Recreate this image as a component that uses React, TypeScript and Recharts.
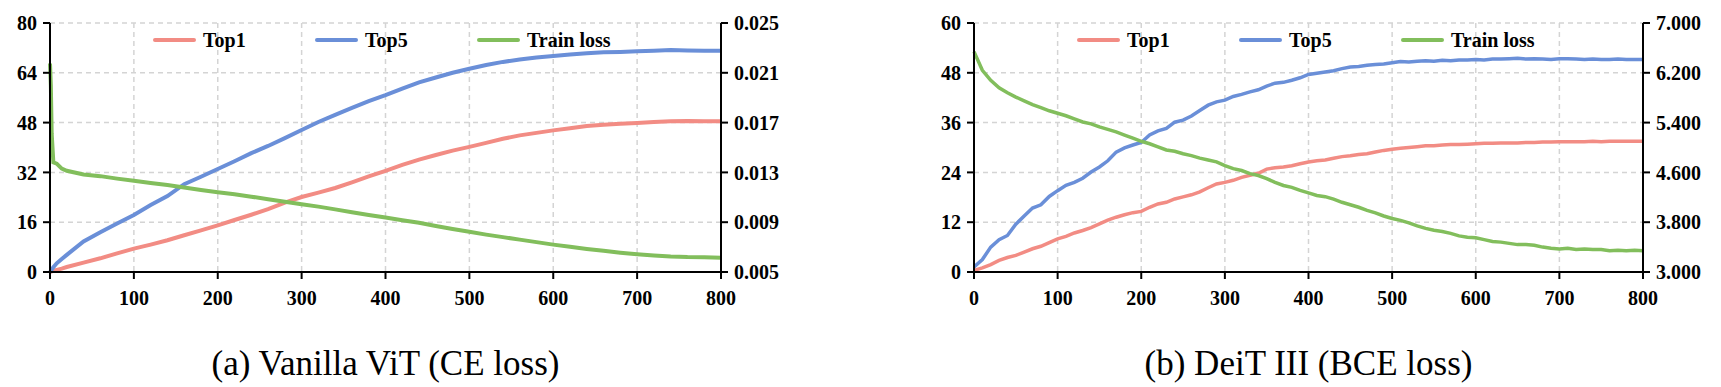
import React from "react";
import { LineChart, Line, XAxis, YAxis, CartesianGrid } from "recharts";

// (a) Vanilla ViT
const epochsA = [0, 1, 2, 4, 8, 14, 20, 40, 60, 80, 100, 120, 140, 160, 180, 200, 220, 240, 260, 280, 300, 320, 340, 360, 380, 400, 420, 440, 460, 480, 500, 520, 540, 560, 580, 600, 620, 640, 660, 680, 700, 720, 740, 760, 780, 800];
const top1A = [0, 0.1, 0.2, 0.4, 0.7, 1.1, 1.6, 3.0, 4.4, 6.0, 7.5, 8.8, 10.2, 11.8, 13.4, 15.0, 16.7, 18.4, 20.2, 22.3, 24.1, 25.5, 27.0, 28.8, 30.7, 32.5, 34.4, 36.1, 37.6, 39.0, 40.2, 41.5, 42.8, 43.9, 44.7, 45.5, 46.2, 46.9, 47.3, 47.6, 47.9, 48.2, 48.4, 48.5, 48.4, 48.4];
const top5A = [0, 0.3, 0.8, 1.5, 2.8, 4.2, 5.5, 9.8, 12.8, 15.6, 18.3, 21.5, 24.4, 28.2, 30.6, 33.1, 35.6, 38.2, 40.5, 43.0, 45.6, 48.2, 50.5, 52.7, 54.9, 56.8, 58.9, 60.9, 62.5, 64.0, 65.3, 66.5, 67.5, 68.3, 68.9, 69.4, 69.9, 70.3, 70.6, 70.7, 70.9, 71.1, 71.3, 71.2, 71.1, 71.1];
const lossA = [0.02175, 0.02, 0.01613, 0.0138, 0.0137, 0.0133, 0.01313, 0.01283, 0.0127, 0.0125, 0.01233, 0.01215, 0.01198, 0.01178, 0.01158, 0.0114, 0.01125, 0.01105, 0.01085, 0.01065, 0.01045, 0.01025, 0.01003, 0.0098, 0.00958, 0.00938, 0.00915, 0.00895, 0.0087, 0.00845, 0.00823, 0.008, 0.0078, 0.0076, 0.0074, 0.0072, 0.00703, 0.00685, 0.0067, 0.00655, 0.00643, 0.00633, 0.00625, 0.0062, 0.00618, 0.00615];

// (b) DeiT III, every 10 epochs
const epochsB = Array.from({ length: 81 }, (_, i) => i * 10);
const top1B = [
  0.4, 1.0, 1.8, 2.8, 3.5, 4.0, 4.8, 5.6, 6.2, 7.1,
  8.0, 8.6, 9.4, 10.0, 10.7, 11.6, 12.5, 13.2, 13.8, 14.3,
  14.6, 15.6, 16.4, 16.8, 17.6, 18.1, 18.6, 19.3, 20.3, 21.2,
  21.6, 22.1, 22.8, 23.3, 23.8, 24.8, 25.1, 25.3, 25.6, 26.1,
  26.5, 26.8, 27.0, 27.4, 27.8, 28.0, 28.3, 28.5, 28.9, 29.3,
  29.6, 29.8, 30.0, 30.2, 30.4, 30.4, 30.6, 30.7, 30.7, 30.8,
  30.9, 31.0, 31.0, 31.1, 31.1, 31.1, 31.2, 31.2, 31.3, 31.3,
  31.4, 31.4, 31.4, 31.4, 31.5, 31.4, 31.5, 31.5, 31.5, 31.5,
  31.5,
];
const top5B = [
  1.2, 3.0, 6.0, 7.8, 8.8, 11.5, 13.5, 15.4, 16.2, 18.2,
  19.6, 20.9, 21.6, 22.6, 24.1, 25.3, 26.8, 28.9, 29.9, 30.6,
  31.2, 33.0, 34.0, 34.6, 36.1, 36.6, 37.6, 38.9, 40.2, 41.0,
  41.4, 42.3, 42.8, 43.4, 43.9, 44.8, 45.5, 45.7, 46.2, 46.8,
  47.6, 47.9, 48.2, 48.5, 49.0, 49.4, 49.5, 49.8, 50.0, 50.1,
  50.4, 50.7, 50.6, 50.8, 50.9, 50.8, 51.0, 50.9, 51.1, 51.1,
  51.2, 51.1, 51.3, 51.3, 51.4, 51.5, 51.3, 51.4, 51.3, 51.2,
  51.4, 51.4, 51.3, 51.2, 51.3, 51.2, 51.2, 51.3, 51.2, 51.2,
  51.2,
];
const lossB = [
  6.54, 6.24, 6.08, 5.96, 5.88, 5.81, 5.75, 5.69, 5.64, 5.59,
  5.55, 5.51, 5.46, 5.41, 5.38, 5.33, 5.29, 5.25, 5.2, 5.15,
  5.1, 5.06, 5.01, 4.96, 4.94, 4.9, 4.87, 4.83, 4.8, 4.77,
  4.71, 4.66, 4.63, 4.58, 4.55, 4.5, 4.44, 4.39, 4.36, 4.31,
  4.27, 4.23, 4.21, 4.17, 4.12, 4.08, 4.04, 3.99, 3.95, 3.9,
  3.86, 3.83, 3.79, 3.74, 3.7, 3.67, 3.65, 3.62, 3.58, 3.56,
  3.55, 3.52, 3.49, 3.48, 3.46, 3.44, 3.44, 3.43, 3.4, 3.38,
  3.37, 3.38, 3.36, 3.37, 3.36, 3.36, 3.34, 3.35, 3.34, 3.35,
  3.34,
];

const xTicks = [0, 100, 200, 300, 400, 500, 600, 700, 800];
const accTicksA = [0, 16, 32, 48, 64, 80];
const lossTicksA = [0.005, 0.009, 0.013, 0.017, 0.021, 0.025];
const accTicksB = [0, 12, 24, 36, 48, 60];
const lossTicksB = [3, 3.8, 4.6, 5.4, 6.2, 7];

const C_TOP1 = "#F28C84";
const C_TOP5 = "#6A8FD8";
const C_LOSS = "#82BE5C";
const FONT = "'Liberation Serif', 'Times New Roman', serif";

const tickStyle = { fontFamily: FONT, fontSize: 20, fontWeight: 700, fill: "#000" };
const axisLine = { stroke: "#000", strokeWidth: 2 };

function Panel({ left, width, margin, data, accTicks, lossTicks, caption, legendLeft, lineW }) {
  const plotL = margin.left + 45;
  const plotR = width - margin.right - 70;
  const center = left + (plotL + plotR) / 2;
  return (
    <>
      <div style={{ position: "absolute", left, top: 0 }}>
        <LineChart width={width} height={320} data={data} margin={margin}>
          <CartesianGrid
            xAxisId="b"
            yAxisId="l"
            stroke="#d4d4d4"
            strokeWidth={1.5}
            strokeDasharray="5 4"
          />
          <XAxis
            xAxisId="b"
            dataKey="epoch"
            type="number"
            domain={[0, 800]}
            ticks={xTicks}
            height={45}
            tick={tickStyle}
            axisLine={axisLine}
            tickLine={axisLine}
            tickSize={7}
            tickMargin={12}
            interval={0}
          />
          <XAxis
            xAxisId="t"
            orientation="top"
            dataKey="epoch"
            type="number"
            domain={[0, 800]}
            height={0}
            tick={false}
            tickLine={false}
            axisLine={axisLine}
          />
          <YAxis
            yAxisId="l"
            domain={[accTicks[0], accTicks[accTicks.length - 1]]}
            ticks={accTicks}
            width={45}
            tick={tickStyle}
            axisLine={axisLine}
            tickLine={axisLine}
            tickSize={7}
            tickMargin={6}
            interval={0}
          />
          <YAxis
            yAxisId="r"
            orientation="right"
            domain={[lossTicks[0], lossTicks[lossTicks.length - 1]]}
            ticks={lossTicks}
            width={70}
            tick={tickStyle}
            axisLine={axisLine}
            tickLine={axisLine}
            tickSize={7}
            tickMargin={6}
            interval={0}
            allowDataOverflow
            tickFormatter={(v) => v.toFixed(3)}
          />
          <Line xAxisId="b" yAxisId="l" dataKey="top1" stroke={C_TOP1} strokeWidth={lineW} dot={false} activeDot={false} isAnimationActive={false} />
          <Line xAxisId="b" yAxisId="l" dataKey="top5" stroke={C_TOP5} strokeWidth={lineW} dot={false} activeDot={false} isAnimationActive={false} />
          <Line xAxisId="b" yAxisId="r" dataKey="loss" stroke={C_LOSS} strokeWidth={lineW} dot={false} activeDot={false} isAnimationActive={false} />
        </LineChart>
      </div>
      <div style={{ position: "absolute", left: left + legendLeft, top: 28, height: 24, display: "flex" }}>
        {[["Top1", C_TOP1], ["Top5", C_TOP5], ["Train loss", C_LOSS]].map(([name, c]) => (
          <div key={name} style={{ width: 162, display: "flex", alignItems: "center" }}>
            <span style={{ width: 43, height: 4, background: c, borderRadius: 2, marginRight: 7 }} />
            <span style={{ fontFamily: FONT, fontSize: 20, fontWeight: 700, color: "#000" }}>{name}</span>
          </div>
        ))}
      </div>
      <div
        style={{
          position: "absolute",
          left: center - 300,
          width: 600,
          top: 346,
          textAlign: "center",
          fontFamily: FONT,
          fontSize: 35,
          lineHeight: "35px",
          color: "#000",
        }}
      >
        {caption}
      </div>
    </>
  );
}

export default function App() {
  const dataA = epochsA.map((e, i) => ({ epoch: e, top1: top1A[i], top5: top5A[i], loss: lossA[i] }));
  const dataB = epochsB.map((e, i) => ({ epoch: e, top1: top1B[i], top5: top5B[i], loss: lossB[i] }));
  return (
    <div style={{ position: "absolute", left: 0, top: 0, width: 1721, height: 387, background: "#fff", overflow: "hidden" }}>
      <Panel
        left={0}
        width={860}
        margin={{ top: 23, right: 69, left: 5, bottom: 3 }}
        data={dataA}
        accTicks={accTicksA}
        lossTicks={lossTicksA}
        caption="(a) Vanilla ViT (CE loss)"
        legendLeft={153}
        lineW={4}
      />
      <Panel
        left={860}
        width={861}
        margin={{ top: 23, right: 8, left: 69, bottom: 3 }}
        data={dataB}
        accTicks={accTicksB}
        lossTicks={lossTicksB}
        caption="(b) DeiT III (BCE loss)"
        legendLeft={217}
        lineW={3.5}
      />
    </div>
  );
}
